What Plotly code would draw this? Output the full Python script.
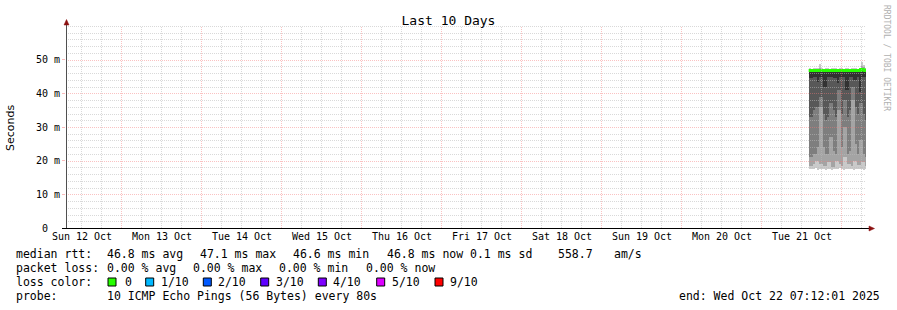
import plotly.graph_objects as go
import pandas as pd

# ---------------- data ----------------
title = "Last 10 Days"
y_title = "Seconds"
x_start = "2025-10-12 07:12:01"
x_end = "2025-10-22 07:12:01"
day_ticks = ["2025-10-12 12:00", "2025-10-13 12:00", "2025-10-14 12:00", "2025-10-15 12:00",
             "2025-10-16 12:00", "2025-10-17 12:00", "2025-10-18 12:00", "2025-10-19 12:00",
             "2025-10-20 12:00", "2025-10-21 12:00"]
day_labels = ["Sun 12 Oct", "Mon 13 Oct", "Tue 14 Oct", "Wed 15 Oct", "Thu 16 Oct",
              "Fri 17 Oct", "Sat 18 Oct", "Sun 19 Oct", "Mon 20 Oct", "Tue 21 Oct"]
y_ticks = [0, 0.01, 0.02, 0.03, 0.04, 0.05]
y_tick_labels = ["0\u00a0\u00a0", "10 m", "20 m", "30 m", "40 m", "50 m"]
y_max = 0.06

data_start = "2025-10-21 14:00"
step_minutes = 36

# ten sorted pings per step (ms)
p1 = [17.6, 17.4, 17.5, 17.8, 17.3, 17.5, 17.4, 17.6, 17.3, 17.5, 17.4, 17.3, 17.6, 17.5, 17.4,
      17.8, 17.5, 17.3, 17.4, 17.6, 17.5, 17.4, 17.3, 17.5, 17.6, 17.4, 17.5, 17.3, 17.5]
p2 = [18.5, 18.5, 19.0, 20.0, 20.0, 19.0, 19.0, 18.5, 18.5, 19.5, 19.5, 18.2, 18.2, 20.0, 20.0,
      19.0, 18.5, 21.0, 21.0, 19.0, 19.0, 18.5, 20.0, 20.0, 18.6, 18.6, 19.5, 19.5, 18.5]
p3 = [21.0, 21.0, 22.0, 22.0, 24.0, 36.0, 36.0, 24.0, 22.0, 22.0, 27.0, 27.0, 23.0, 22.0, 35.0,
      35.0, 24.0, 30.0, 30.0, 22.0, 23.0, 38.0, 38.0, 25.0, 22.0, 26.0, 26.0, 22.0, 21.0]
p4 = [33.0, 33.0, 35.0, 36.0, 36.0, 39.0, 39.0, 34.0, 32.0, 33.0, 37.0, 37.0, 35.0, 33.0, 41.0,
      41.0, 34.0, 38.0, 38.0, 33.0, 35.0, 42.0, 42.0, 36.0, 34.0, 37.0, 37.0, 34.0, 32.0]
p5 = [44.5, 44.5, 45.0, 45.0, 43.5, 45.0, 45.0, 42.0, 42.0, 44.8, 45.0, 45.0, 44.6, 44.6, 43.0,
      44.8, 44.8, 45.0, 41.0, 41.0, 45.0, 45.0, 44.0, 44.0, 45.0, 40.5, 44.9, 44.9, 45.0]
p6 = [46.6, 46.7, 46.5, 46.6, 46.7, 46.6, 46.5, 46.6, 46.7, 46.6, 46.5, 46.6, 46.7, 46.6, 46.5,
      46.6, 46.7, 46.6, 46.5, 46.6, 46.7, 46.6, 46.5, 46.6, 46.7, 46.6, 46.8, 46.7, 46.6]
p7 = [46.8, 46.9, 46.7, 46.8, 46.9, 46.8, 46.7, 46.8, 46.9, 46.8, 46.7, 46.8, 46.9, 46.8, 46.7,
      46.8, 46.9, 46.8, 46.7, 46.8, 46.9, 46.8, 46.7, 46.8, 46.9, 46.8, 47.0, 46.9, 46.8]
p8 = [46.9, 47.0, 46.8, 46.9, 47.0, 47.1, 46.8, 46.9, 47.0, 46.9, 46.8, 46.9, 47.0, 46.9, 46.8,
      46.9, 47.0, 46.9, 46.8, 46.9, 47.0, 46.9, 46.8, 46.9, 47.0, 46.9, 47.3, 47.1, 46.9]
p9 = [47.1, 47.1, 47.0, 47.1, 47.2, 47.6, 47.0, 47.1, 47.2, 47.1, 47.0, 47.2, 47.1, 47.1, 47.0,
      47.1, 47.2, 47.0, 47.1, 47.1, 47.0, 47.2, 47.1, 47.2, 47.0, 47.1, 48.2, 47.7, 47.1]
p10 = [47.4, 47.3, 47.5, 47.4, 47.6, 48.8, 47.4, 47.3, 47.5, 47.4, 47.3, 47.6, 47.4, 47.5, 47.3,
       47.4, 47.6, 47.3, 47.5, 47.4, 47.3, 47.5, 47.4, 47.6, 47.3, 47.5, 49.3, 48.4, 47.5]
median_rtt = [46.8, 46.8, 46.8, 46.8, 46.8, 46.8, 46.8, 46.8, 46.8, 46.8, 46.8, 46.8, 46.8, 46.8, 46.8,
              46.8, 46.8, 46.8, 46.8, 46.8, 46.8, 46.8, 46.8, 46.8, 46.8, 46.8, 47.1, 46.9, 46.8]

loss_labels = ["0", "1/10", "2/10", "3/10", "4/10", "5/10", "9/10"]
loss_colors = ["#26ff00", "#00b8ff", "#0059ff", "#5e00ff", "#7e00ff", "#dd00ff", "#ff0000"]

legend_rtt = ["median rtt:", "46.8 ms avg", "47.1 ms max", "46.6 ms min", "46.8 ms now",
              "0.1 ms sd", "558.7", "am/s"]
legend_loss = ["packet loss:", "0.00 % avg", "0.00 % max", "0.00 % min", "0.00 % now"]
probe_text = ["probe:", "10 ICMP Echo Pings (56 Bytes) every 80s"]
end_text = "end: Wed Oct 22 07:12:01 2025"
credit = "RRDTOOL / TOBI OETIKER"

# ---------------- layout helpers ----------------
W, H = 897, 310
L, R, T, B = 66, 866, 26, 228
MONO = "DejaVu Sans Mono"


def px(x):
    return (x - L) / (R - L)


def py(y):
    return (B - y) / (B - T)


t_start = pd.Timestamp(x_start)
t_end = pd.Timestamp(x_end)
span = (t_end - t_start).total_seconds()


def time_to_pixel(t):
    return L + (t - t_start).total_seconds() / span * (R - L)


def value_to_pixel(v):
    return T + (y_max - v) / y_max * (B - T)


times = pd.date_range(data_start, periods=len(p1), freq=f"{step_minutes}min")
step_ms = step_minutes * 60 * 1000
pings = [p1, p2, p3, p4, p5, p6, p7, p8, p9, p10]
half = len(pings) // 2

fig = go.Figure()

# smoke bands (smokeping style: outer pairs light, inner pairs dark)
for i in range(half):
    lo = pings[i]
    hi = pings[len(pings) - 1 - i]
    g = int(190 / half * (half - (i + 1))) + 50
    col = "#%02x%02x%02x" % (g, g, g)
    fig.add_trace(go.Bar(
        x=times, base=[v / 1000 for v in lo], y=[(h - l) / 1000 for h, l in zip(hi, lo)],
        width=step_ms * 1.3, offset=0, marker=dict(color=col, line=dict(width=0)),
        hoverinfo="skip"))

# median line
mx = list(times) + [times[-1] + pd.Timedelta(minutes=step_minutes)]
my = [v / 1000 for v in median_rtt] + [median_rtt[-1] / 1000]
fig.add_trace(go.Scatter(x=mx, y=my, mode="lines", line=dict(color=loss_colors[0], width=3, shape="hv"),
                         hoverinfo="skip"))

MINOR = "rgba(185,185,185,0.55)"
MAJOR = "rgba(245,120,120,0.45)"
shapes = []
# grid drawn above smoke, like rrdtool, snapped to pixel centres
t = pd.Timestamp("2025-10-12 12:00")
while t <= t_end:
    xc = round(time_to_pixel(t)) - 0.5
    shapes.append(dict(type="line", xref="paper", yref="paper", x0=px(xc), x1=px(xc), y0=0, y1=1,
                       layer="above",
                       line=dict(color=MAJOR if t.hour == 0 else MINOR, width=1, dash="1px,1px")))
    t += pd.Timedelta(hours=6)
for k in range(1, 31):
    yc = round(value_to_pixel(k * 0.002)) + 0.5
    shapes.append(dict(type="line", xref="paper", yref="paper", x0=0, x1=1, y0=py(yc), y1=py(yc),
                       layer="above",
                       line=dict(color=MAJOR if (k % 5 == 0 and k < 30) else MINOR, width=1, dash="1px,1px")))

# axes lines and arrows
shapes.append(dict(type="line", xref="paper", yref="paper", x0=px(66.5), x1=px(66.5), y0=py(228), y1=py(23),
                   line=dict(color="#505050", width=1), layer="above"))
shapes.append(dict(type="line", xref="paper", yref="paper", x0=px(62), x1=px(870), y0=py(228.5), y1=py(228.5),
                   line=dict(color="#000000", width=1), layer="above"))
shapes.append(dict(type="path", xref="paper", yref="paper", layer="above",
                   path=f"M {px(64)},{py(25)} L {px(69)},{py(25)} L {px(66.5)},{py(19.5)} Z",
                   fillcolor="#8b1010", line=dict(color="#8b1010", width=0.5)))
shapes.append(dict(type="path", xref="paper", yref="paper", layer="above",
                   path=f"M {px(869)},{py(226)} L {px(869)},{py(231)} L {px(874.5)},{py(228.5)} Z",
                   fillcolor="#8b1010", line=dict(color="#8b1010", width=0.5)))

annotations = []


def text(x, y, s, size=11.5, anchor="left", color="#000000", family=MONO, angle=0):
    annotations.append(dict(xref="paper", yref="paper", x=px(x), y=py(y), text=s.replace(" ", "\u00a0"),
                            showarrow=False, xanchor=anchor, yanchor="middle", textangle=angle,
                            font=dict(family=family, size=size, color=color),
                            borderpad=0, borderwidth=0))


text(10.5, 127.5, y_title, size=11, anchor="center", family="DejaVu Sans", angle=-90)
text(887, 58, credit, size=8, anchor="center", color="#b0b0b0", angle=90)

rtt_x = [16, 107.3, 200, 293.3, 386.7, 470, 558.3, 614]
for xx, s in zip(rtt_x, legend_rtt):
    text(xx, 254, s)
loss_x = [16, 107.3, 193.3, 279.3, 365.7]
for xx, s in zip(loss_x, legend_loss):
    text(xx, 268, s)
text(16, 282, "loss color:")
sq_x = [108, 145.7, 203.3, 260.7, 318.3, 376.7, 435]
lab_x = [125, 160.7, 218, 276, 333.3, 391.7, 450]
for sx, lx, c, s in zip(sq_x, lab_x, loss_colors, loss_labels):
    shapes.append(dict(type="rect", xref="paper", yref="paper", x0=px(sx), x1=px(sx + 8),
                       y0=py(278), y1=py(286), fillcolor=c, line=dict(color="#000000", width=1)))
    text(lx, 282, s)
text(16, 296, probe_text[0])
text(107.3, 296, probe_text[1])
text(880, 296, end_text, anchor="right")

fig.update_layout(
    width=W, height=H,
    margin=dict(l=L, r=W - R, t=T, b=H - B),
    paper_bgcolor="white", plot_bgcolor="white",
    barmode="overlay", bargap=0, showlegend=False,
    title=dict(text=title, x=0.5, xanchor="center", y=1 - 20 / H, yanchor="middle",
               font=dict(family=MONO, size=13, color="#000000")),
    xaxis=dict(type="date", range=[x_start, x_end], tickvals=day_ticks, ticktext=day_labels,
               showgrid=False, zeroline=False, showline=False, ticks="", ticklabelstandoff=1,
               tickfont=dict(family=MONO, size=10, color="#000000")),
    yaxis=dict(range=[0, y_max], tickvals=y_ticks, ticktext=y_tick_labels, showgrid=False,
               zeroline=False, showline=False, ticks="outside", ticklen=3,
               tickcolor="rgba(245,120,120,0.5)",
               tickfont=dict(family=MONO, size=10, color="#000000")),
    shapes=shapes, annotations=annotations,
)

fig.write_html("out.html")
